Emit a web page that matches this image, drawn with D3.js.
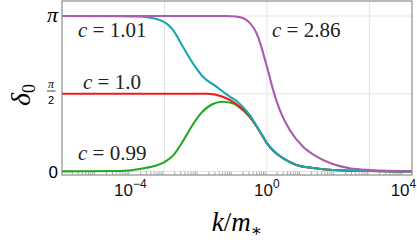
<!DOCTYPE html>
<html>
<head>
<meta charset="utf-8">
<script src="https://cdn.jsdelivr.net/npm/d3@7"></script>
<style>
  body { margin: 0; background: #fff; }
  svg { display: block; }
  .serif { font-family: "Liberation Serif", "DejaVu Serif", serif; }
  .sans { font-family: "Liberation Sans", "DejaVu Sans", sans-serif; }
</style>
</head>
<body>
<svg width="417" height="246"></svg>
<script>
// exponents of k/m* (log10) and phase shift values
const PI = Math.PI;

const logK_c286 = [-6, -1.2, -0.9, -0.7, -0.5, -0.3, -0.2, 0.0, 0.09, 0.18, 0.38, 0.67, 1.06, 1.46, 1.85, 2.43, 3.02, 4.25];
const delta_c286 = [PI, PI, 3.13, 3.1, 3.0, 2.79, 2.6, 2.12, 1.89, 1.65, 1.24, 0.84, 0.50, 0.30, 0.17, 0.065, 0.03, 0.005];

const logK_c101 = [-6, -4.2, -3.72, -3.14, -2.75, -2.46, -2.17, -1.88, -1.47, -1.08, -0.88, -0.7, -0.5, -0.3, -0.15, 0, 0.2, 0.47, 0.87, 1.35, 1.93, 3.0, 4.25];
const delta_c101 = [PI, 3.14, 3.13, 3.06, 2.86, 2.52, 2.19, 1.92, 1.71, 1.51, 1.42, 1.30, 1.14, 0.92, 0.75, 0.58, 0.42, 0.27, 0.13, 0.07, 0.03, 0.01, 0.002];

const logK_c100 = [-6, -1.75, -1.29, -1.0, -0.7, -0.5, -0.3, -0.15, 0, 0.2, 0.47, 0.87, 1.35, 1.93, 3.0, 4.25];
const delta_c100 = [PI / 2, 1.571, 1.51, 1.41, 1.25, 1.11, 0.91, 0.745, 0.575, 0.415, 0.27, 0.13, 0.07, 0.03, 0.01, 0.002];

const logK_c099 = [-6, -4.3, -3.72, -3.3, -3.0, -2.75, -2.55, -2.35, -2.15, -1.9, -1.6, -1.3, -1.0, -0.7, -0.5, -0.3, -0.15, 0, 0.2, 0.47, 0.87, 1.35, 1.93, 3.0, 4.25];
const delta_c099 = [0.003, 0.01, 0.05, 0.11, 0.19, 0.32, 0.51, 0.74, 0.97, 1.20, 1.36, 1.41, 1.38, 1.24, 1.10, 0.91, 0.74, 0.57, 0.41, 0.27, 0.13, 0.07, 0.03, 0.01, 0.002];

const xTickExp = [-4, 0, 4];
const xGridExp = [-3, 0, 3];
const yGrid = [0, PI / 2, PI];

const seriesList = [
    {name: "c = 0.99", k: logK_c099, d: delta_c099, color: "#1fa81f"},
    {name: "c = 1.0", k: logK_c100, d: delta_c100, color: "#f01a1a"},
    {name: "c = 1.01", k: logK_c101, d: delta_c101, color: "#17a8b3"},
    {name: "c = 2.86", k: logK_c286, d: delta_c286, color: "#a75cae"}
];

let svg = d3.select("svg");

let x = d3.scaleLog().domain([1e-6, Math.pow(10, 4.25)]).range([62, 412]);
let y = d3.scaleLinear().domain([0, PI]).range([171.5, 16]);
let plotTop = 1, plotBottom = 175;

// grid
svg.selectAll(".vgrid")
    .data(xGridExp)
    .enter().append("line")
    .attr("x1", d => x(Math.pow(10, d))).attr("x2", d => x(Math.pow(10, d)))
    .attr("y1", plotTop).attr("y2", plotBottom)
    .attr("stroke", "#e4e4e4").attr("stroke-width", 1);

svg.selectAll(".hgrid")
    .data(yGrid)
    .enter().append("line")
    .attr("x1", 62).attr("x2", 412)
    .attr("y1", d => y(d)).attr("y2", d => y(d))
    .attr("stroke", "#e4e4e4").attr("stroke-width", 1);

// minor log ticks along bottom
let minor = [];
for (let e = -6; e <= 4; e++) {
    for (let m = 2; m <= 9; m++) {
        let v = m * Math.pow(10, e);
        if (v <= x.domain()[1]) minor.push(v);
    }
}
svg.selectAll(".minor")
    .data(minor)
    .enter().append("line")
    .attr("x1", d => x(d)).attr("x2", d => x(d))
    .attr("y1", plotBottom).attr("y2", plotBottom - 3.5)
    .attr("stroke", "#9a9a9a").attr("stroke-width", 0.8);

// curves
let line = d3.line()
    .x(p => x(Math.pow(10, p[0])))
    .y(p => y(p[1]))
    .curve(d3.curveMonotoneX);

seriesList.forEach(s => {
    let pts = s.k.map((e, i) => [e, s.d[i]]);
    svg.append("path")
        .datum(pts)
        .attr("d", line)
        .attr("fill", "none")
        .attr("stroke", s.color)
        .attr("stroke-width", 2.1);
});

// frame
svg.append("rect")
    .attr("x", 62).attr("y", plotTop)
    .attr("width", 350).attr("height", plotBottom - plotTop)
    .attr("fill", "none").attr("stroke", "#8c8c8c").attr("stroke-width", 1.2);

// x tick labels
let xt = svg.selectAll(".xt")
    .data(xTickExp)
    .enter().append("text")
    .attr("class", "sans")
    .attr("x", d => x(Math.pow(10, d)))
    .attr("y", 196)
    .attr("text-anchor", "middle")
    .attr("font-size", 17)
    .attr("fill", "#111");
xt.append("tspan").text("10");
xt.append("tspan").attr("dy", -8).attr("font-size", 12).text(d => d < 0 ? "\u2212" + (-d) : d);

// y tick labels
svg.append("text")
    .attr("class", "serif")
    .attr("x", 58).attr("y", 22)
    .attr("text-anchor", "end")
    .attr("font-style", "italic")
    .attr("font-size", 22)
    .text("π");

svg.append("text")
    .attr("class", "serif")
    .attr("x", 51).attr("y", 88)
    .attr("text-anchor", "middle")
    .attr("font-style", "italic")
    .attr("font-size", 12)
    .text("π");
svg.append("line")
    .attr("x1", 47).attr("x2", 55.5)
    .attr("y1", 91).attr("y2", 91)
    .attr("stroke", "#111").attr("stroke-width", 0.8);
svg.append("text")
    .attr("class", "sans")
    .attr("x", 51).attr("y", 104)
    .attr("text-anchor", "middle")
    .attr("font-size", 11)
    .text("2");

svg.append("text")
    .attr("class", "sans")
    .attr("x", 58).attr("y", 178)
    .attr("text-anchor", "end")
    .attr("font-size", 17)
    .text("0");

// axis labels
let yl = svg.append("text")
    .attr("class", "serif")
    .attr("transform", "translate(30,95) rotate(-90)")
    .attr("text-anchor", "middle")
    .attr("font-size", 28);
yl.append("tspan").attr("font-style", "italic").text("δ");
yl.append("tspan").attr("font-size", 18).attr("dy", 5).text("0");

let xl = svg.append("text")
    .attr("class", "serif")
    .attr("x", 237).attr("y", 231)
    .attr("text-anchor", "middle")
    .attr("font-style", "italic")
    .attr("font-size", 27);
xl.append("tspan").text("k");
xl.append("tspan").attr("font-style", "normal").text("/");
xl.append("tspan").text("m");
xl.append("tspan").attr("font-style", "normal").attr("font-size", 17).attr("dy", 5).text("∗");

// curve annotations
const labelNames = ["c = 1.01", "c = 1.0", "c = 0.99", "c = 2.86"];
const labelPos = [[78, 37], [83, 89], [78, 160], [272, 37]];
labelNames.forEach((t, i) => {
    let parts = t.split(" = ");
    let tx = svg.append("text")
        .attr("class", "serif")
        .attr("x", labelPos[i][0]).attr("y", labelPos[i][1])
        .attr("font-size", 21)
        .attr("fill", "#222");
    tx.append("tspan").attr("font-style", "italic").text(parts[0]);
    tx.append("tspan").text(" = " + parts[1]);
});
</script>
</body>
</html>
